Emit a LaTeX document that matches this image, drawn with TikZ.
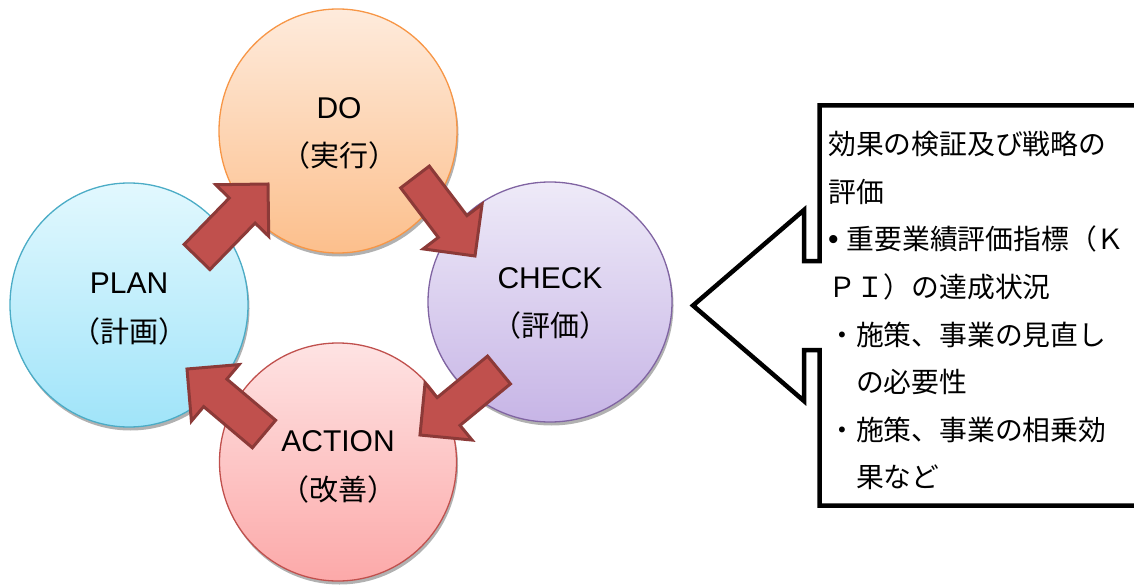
\documentclass[tikz,border=0pt]{standalone}
\usepackage{fontspec}
\setmainfont{Noto Sans CJK JP}
\newfontfamily\latinfont{Liberation Sans}
\usetikzlibrary{calc,shadows,shapes.geometric}
\definecolor{doT}{HTML}{FEEBDC}\definecolor{doB}{HTML}{FCBF8C}\definecolor{doE}{HTML}{F79646}
\definecolor{plT}{HTML}{E2F8FE}\definecolor{plB}{HTML}{A0E4F9}\definecolor{plE}{HTML}{4BACC6}
\definecolor{chT}{HTML}{EEEAF8}\definecolor{chB}{HTML}{C7B5E6}\definecolor{chE}{HTML}{8064A2}
\definecolor{acT}{HTML}{FEE3E3}\definecolor{acB}{HTML}{FCA9A9}\definecolor{acE}{HTML}{C0504D}
\definecolor{arF}{HTML}{C0504D}\definecolor{arE}{HTML}{8C3A38}
\newcommand\fatarrow[2]{%
  \coordinate (fa-n) at ($(#2)!37pt!(#1)$);
  \draw[fatarr] ($(#1)!18pt!90:(#2)$) -- ($(fa-n)!18pt!90:(#2)$) -- ($(fa-n)!37pt!90:(#2)$) -- (#2)
    -- ($(fa-n)!37pt!-90:(#2)$) -- ($(fa-n)!18pt!-90:(#2)$) -- ($(#1)!18pt!-90:(#2)$) -- cycle;}
\begin{document}
\begin{tikzpicture}[x=1pt,y=-1pt,
  cyc/.style={ellipse, line width=1.3pt, inner sep=0pt,
    drop shadow={shadow xshift=1.5pt, shadow yshift=-3.5pt, fill=black!38, opacity=0.8}},
  lat/.style={inner sep=0pt, anchor=base, font=\latinfont\fontsize{30}{34}\selectfont},
  jp/.style={inner sep=0pt, anchor=base, font=\fontsize{29}{34}\selectfont},
  ctext/.style={inner sep=0pt, anchor=base west, font=\fontsize{27.8}{32}\selectfont},
  fatarr/.style={fill=arF, draw=arE, line width=3pt, line join=miter},
  callout/.style={draw=black, line width=4.5pt, line join=miter, fill=white}]
\useasboundingbox (0,0) rectangle (1134,585);
\clip (0,0) rectangle (1134,585);
% circles
\node[cyc, top color=doT, bottom color=doB, draw=doE, minimum width=238, minimum height=244] (do) at (338,131) {};
\node[cyc, top color=plT, bottom color=plB, draw=plE, minimum width=238, minimum height=244] (plan) at (129,305) {};
\node[cyc, top color=chT, bottom color=chB, draw=chE, minimum width=244, minimum height=240] (check) at (550,302) {};
\node[cyc, top color=acT, bottom color=acB, draw=acE, minimum width=237, minimum height=238] (action) at (338,462) {};
% labels
\node[lat] (do1) at (339,118.7) {DO};
\node[jp]  (do2) at (339,167) {（実行）};
\node[lat] (pl1) at (129,293.7) {PLAN};
\node[jp]  (pl2) at (129,342) {（計画）};
\node[lat] (ch1) at (550,288.7) {CHECK};
\node[jp]  (ch2) at (550,336) {（評価）};
\node[lat] (ac1) at (338,451.7) {ACTION};
\node[jp]  (ac2) at (338,500) {（改善）};
% cycle arrows
\coordinate (a1s) at (197,257); \coordinate (a1t) at (268,184);
\coordinate (a2s) at (415,177); \coordinate (a2t) at (475,256);
\coordinate (a3s) at (499,370); \coordinate (a3t) at (420,435);
\coordinate (a4s) at (264,434); \coordinate (a4t) at (187,369);
\fatarrow{a1s}{a1t}
\fatarrow{a2s}{a2t}
\fatarrow{a3s}{a3t}
\fatarrow{a4s}{a4t}
% callout
\draw[callout] (1145,105.5) -- (819.5,105.5) -- (819.5,261) -- (804,261) -- (804,210) -- (693,305.5)
  -- (804,401) -- (804,350) -- (819.5,350) -- (819.5,505.5) -- (1145,505.5) -- cycle;
\node[ctext] (c1) at (828,154.6) {効果の検証及び戦略の};
\node[ctext] (c2) at (828,202.2) {評価};
\node[ctext] (c3) at (828,249.8) {{\latinfont\fontsize{30}{32}\selectfont •}\hspace{8pt}重要業績評価指標（Ｋ};
\node[ctext] (c4) at (828,297.4) {ＰＩ）の達成状況};
\node[ctext] (c5) at (828,345.0) {・施策、事業の見直し};
\node[ctext] (c6) at (855.8,392.6) {の必要性};
\node[ctext] (c7) at (828,440.2) {・施策、事業の相乗効};
\node[ctext] (c8) at (855.8,487.8) {果など};
\end{tikzpicture}
\end{document}
